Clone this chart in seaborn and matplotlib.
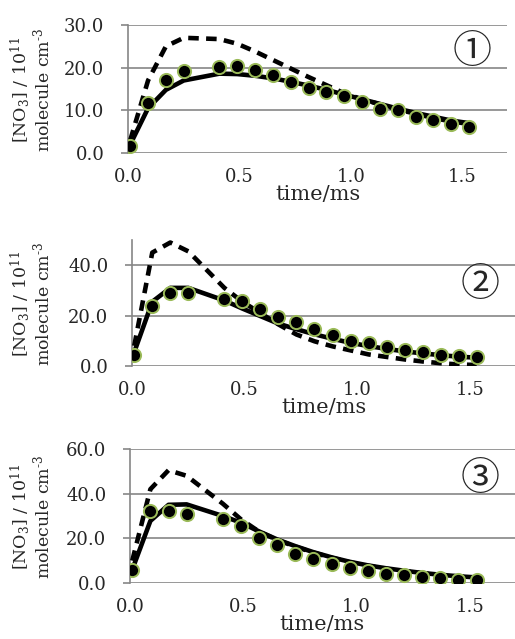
import matplotlib
matplotlib.use("Agg")
from matplotlib import pyplot as plt
import seaborn as sns

# time axis shared by all three panels (ms)
time_ms = [0.01, 0.09, 0.17, 0.25, 0.41, 0.49, 0.57, 0.65, 0.73, 0.81,
           0.89, 0.97, 1.05, 1.13, 1.21, 1.29, 1.37, 1.45, 1.53]

# panel 1
obs_1 = [1.6, 11.7, 17.0, 19.2, 20.2, 20.5, 19.5, 18.3, 16.7, 15.2,
         14.4, 13.4, 12.0, 10.3, 10.1, 8.4, 7.7, 6.8, 6.2]
model_1 = [2.0, 10.5, 14.8, 17.0, 18.6, 18.5, 18.1, 17.5, 16.7, 15.8,
           14.8, 13.7, 12.6, 11.5, 10.4, 9.4, 8.5, 7.6, 7.0]
model_dash_1 = [3.0, 17.0, 25.0, 27.0, 26.7, 25.6, 23.8, 21.8, 19.8, 17.8,
                15.9, 14.0, 12.6, 11.4, 10.2, 9.2, 8.2, 7.4, 6.8]

# panel 2
obs_2 = [4.5, 23.8, 28.8, 29.1, 26.4, 25.9, 22.8, 19.6, 17.6, 14.7,
         12.4, 10.1, 9.1, 7.4, 6.4, 5.4, 4.5, 3.8, 3.6]
model_2 = [5.5, 25.5, 31.0, 31.0, 26.0, 22.8, 19.8, 16.8, 14.6, 12.6,
           10.8, 9.2, 7.9, 6.8, 5.8, 5.0, 4.3, 3.7, 3.3]
model_dash_2 = [8.0, 45.0, 49.0, 45.5, 31.0, 25.5, 21.0, 16.5, 12.5, 9.8,
                7.8, 6.2, 4.6, 3.6, 2.6, 1.8, 1.1, 0.6, 0.4]

# panel 3
obs_3 = [6.0, 32.3, 32.3, 31.1, 28.5, 25.5, 20.3, 16.8, 13.2, 10.8,
         8.7, 6.8, 5.3, 4.2, 3.8, 2.6, 2.3, 1.5, 1.5]
model_3 = [6.0, 27.8, 35.0, 35.2, 30.0, 27.0, 23.1, 19.5, 16.5, 13.8,
           11.5, 9.5, 7.9, 6.6, 5.5, 4.5, 3.7, 3.0, 2.5]
model_dash_3 = [10.0, 42.0, 50.5, 48.0, 35.5, 28.5, 23.0, 19.3, 16.3, 13.6,
                11.3, 9.3, 7.7, 6.4, 5.3, 4.4, 3.6, 2.9, 2.4]

panel_labels = ["①", "②", "③"]
y_limits = [30, 50, 60]
y_ticks = [[0, 10, 20, 30], [0, 20, 40], [0, 20, 40, 60]]
x_ticks = [0.0, 0.5, 1.0, 1.5]

sns.set_theme(style="white")
plt.rcParams["font.family"] = ["DejaVu Serif"]
plt.rcParams["mathtext.fontset"] = "dejavuserif"

GRID = "#868686"
EDGE = "#9bbb59"

fig = plt.figure(figsize=(5.15, 6.39), dpi=100)
# axes rectangles in pixels: left, top, right, bottom
rects = [(128, 25, 507, 153), (132, 240, 515, 366), (130, 449, 515, 583)]
W, H = 515, 639

panels = [(obs_1, model_1, model_dash_1),
          (obs_2, model_2, model_dash_2),
          (obs_3, model_3, model_dash_3)]

for i, (obs, model, dashed) in enumerate(panels):
    l, t, r, b = rects[i]
    ax = fig.add_axes([l / W, 1 - b / H, (r - l) / W, (b - t) / H])

    sns.lineplot(x=time_ms, y=model, color="black", lw=3.3, ax=ax, zorder=3)
    sns.lineplot(x=time_ms, y=dashed, color="black", lw=3.3, ax=ax, zorder=3)
    ax.lines[-1].set_dashes((2.3, 1.6))
    sns.scatterplot(x=time_ms, y=obs, color="black", s=90, edgecolor=EDGE,
                    linewidth=1.4, ax=ax, zorder=4)

    ax.set_xlim(0, 1.7)
    ax.set_ylim(0, y_limits[i])
    ax.set_xticks(x_ticks)
    ax.set_yticks(y_ticks[i])
    ax.set_xticklabels([f"{v:.1f}" for v in x_ticks])
    ax.set_yticklabels([f"{v:.1f}" for v in y_ticks[i]])

    ax.grid(axis="y", color=GRID, lw=1.2)
    ax.set_axisbelow(True)
    for side in ["top", "right", "bottom"]:
        ax.spines[side].set_visible(False)
    ax.spines["left"].set_color(GRID)
    ax.spines["left"].set_linewidth(1.2)

    ax.tick_params(axis="y", length=5, width=1.2, color=GRID, pad=12,
                   labelsize=13, left=True)
    ax.tick_params(axis="x", length=0, pad=11, labelsize=13)

    ax.set_xlabel("time/ms", fontsize=15, labelpad=-1)
    ax.set_ylabel("")
    cx = (30.5 - l) / (r - l)
    ax.text(cx, 0.49, "[NO$_3$] / 10$^{11}$\nmolecule cm$^{\\text{-3}}$",
            transform=ax.transAxes, rotation=90, ha="center", va="center",
            fontsize=12.5, linespacing=0.95)

    ax.text(0.908, [0.79, 0.644, 0.775][i], panel_labels[i],
            transform=ax.transAxes, ha="center", va="center",
            fontsize=28, family=["Noto Sans CJK JP", "DejaVu Sans"])

fig.savefig("out.png", dpi=100)
